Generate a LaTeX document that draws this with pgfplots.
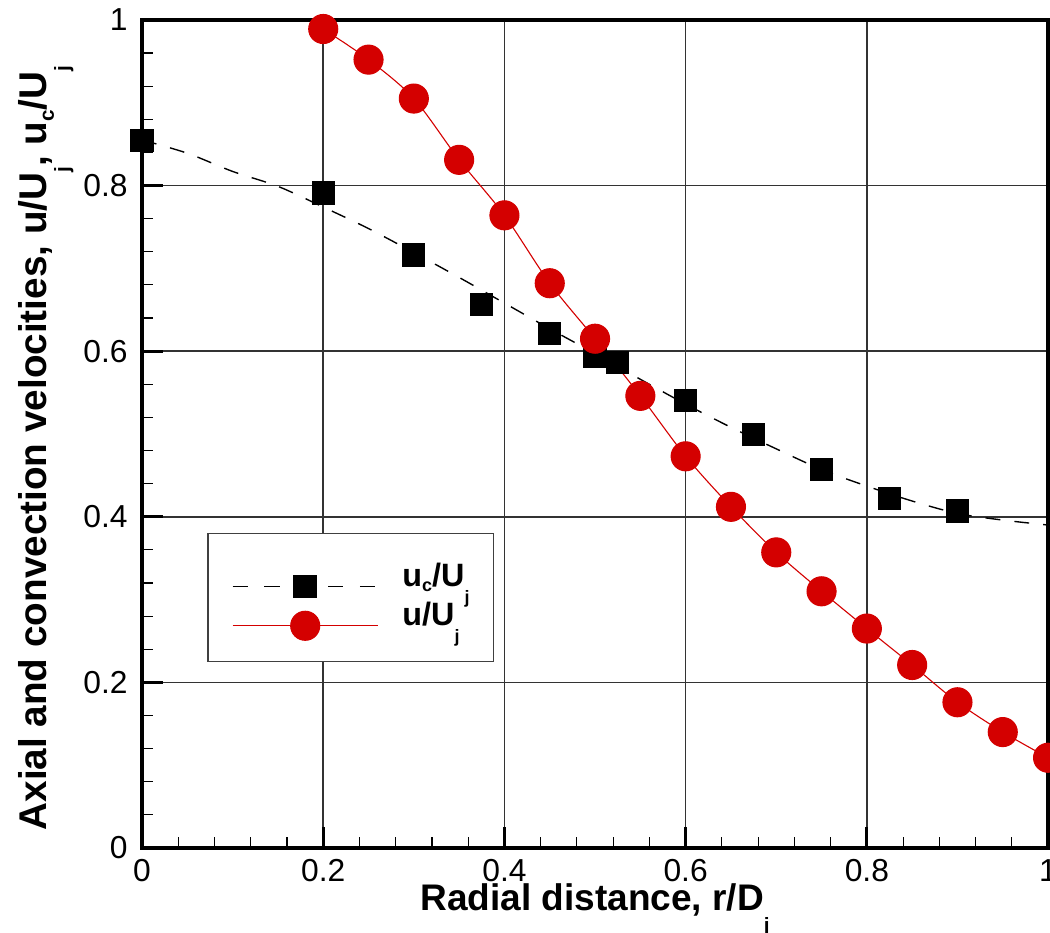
\documentclass[border=0pt]{standalone}
\usepackage{fontspec}
\setmainfont{Liberation Sans}
\usepackage{pgfplots}
\pgfplotsset{compat=1.18}
\definecolor{myred}{RGB}{212,0,0}
\newcommand{\sub}[3]{\smash{\raisebox{-#2}{\fontsize{#1}{#1}\selectfont #3}}}
\begin{document}
\begin{tikzpicture}
\begin{axis}[name=ax, scale only axis, width=327.9pt, height=299.7pt,
  xmin=0, xmax=1, ymin=0, ymax=1,
  xtick={0,0.2,0.4,0.6,0.8,1}, ytick={0,0.2,0.4,0.6,0.8,1},
  minor x tick num=4, minor y tick num=4,
  tick align=inside, tick pos=left,
  major tick length=7.6pt, minor tick length=4pt,
  every major tick/.append style={line width=1pt, black},
  every minor tick/.append style={line width=0.4pt, black},
  grid=major, major grid style={line width=0.55pt, black!80},
  axis line style={line width=1.45pt},
  /pgf/number format/assume math mode=true,
  ticklabel style={font=\fontsize{11.5}{14}\selectfont},
  xticklabel style={anchor=base, inner sep=0pt, yshift=-12pt},
  yticklabel style={anchor=east, inner sep=0pt, xshift=-5pt},
  xlabel={Radial distance, r/D\sub{7.5pt}{8pt}{j}},
  xlabel style={at={(axis description cs:0.5,-0.0758)}, anchor=base, inner sep=0pt, font=\fontsize{13.4}{16}\selectfont\bfseries},
  ylabel={Axial and convection velocities, u/U\sub{7.5pt}{8pt}{j}, u\sub{7.5pt}{2.5pt}{c}/U\sub{7.5pt}{8pt}{j}},
  ylabel style={at={(axis description cs:-0.1049,0.483)}, anchor=base, inner sep=0pt, font=\fontsize{14}{16}\selectfont\bfseries},
  legend cell align=left,
  legend style={at={(axis cs:0.072,0.3804)}, anchor=north west, draw=black!75, line width=0.5pt, fill=white,
    font=\fontsize{11.7}{14}\selectfont\bfseries, inner xsep=8.7pt, inner ysep=7.75pt,
    column sep=8.7pt, row sep=1.7pt, nodes={inner sep=0pt}, cells={anchor=base west}},
  legend image code/.code={\draw[mark repeat=2,mark phase=2,#1] plot coordinates {(0pt,0pt) (26.25pt,0pt) (52.5pt,0pt)};},
]
% fitted dashed curve
\addplot[forget plot, black, line width=0.5pt, dash pattern=on 5.4pt off 5.1pt, smooth] coordinates {
(0,0.855) (0.05,0.839) (0.1,0.817) (0.15,0.799) (0.2,0.774) (0.25,0.748) (0.3,0.719)
(0.35,0.689) (0.4,0.658) (0.45,0.627) (0.5,0.597) (0.55,0.566) (0.6,0.536) (0.65,0.508)
(0.7,0.482) (0.75,0.457) (0.8,0.437) (0.85,0.419) (0.9,0.404) (0.95,0.396) (1.0,0.390)};
% convection velocity squares
\addplot[forget plot, only marks, mark=square*, mark size=4pt, black] coordinates {
(0,0.854) (0.2,0.791) (0.3,0.716) (0.375,0.656) (0.45,0.621) (0.5,0.594) (0.525,0.586)
(0.6,0.540) (0.675,0.499) (0.75,0.457) (0.825,0.422) (0.9,0.407)};
% axial velocity
\addplot[forget plot, myred, line width=0.4pt, smooth, mark=*, mark size=5.25pt, mark options={fill=myred, draw=myred, solid}] coordinates {
(0.2,0.989) (0.25,0.952) (0.3,0.905) (0.35,0.831) (0.4,0.764) (0.45,0.682) (0.5,0.615)
(0.55,0.546) (0.6,0.473) (0.65,0.412) (0.7,0.357) (0.75,0.310) (0.8,0.265) (0.85,0.221)
(0.9,0.176) (0.95,0.140) (1.0,0.109)};
\addlegendimage{black, line width=0.5pt, dash pattern=on 5.6pt off 5.9pt, mark=square*, mark size=4pt, mark options={solid}}
\addlegendentry{\rule{0pt}{11.4pt}u\sub{6.5pt}{1.8pt}{c}/U\sub{6.5pt}{6pt}{j}}
\addlegendimage{myred, line width=0.4pt, mark=*, mark size=5.25pt, mark options={fill=myred, draw=myred}}
\addlegendentry{u/U\sub{6.5pt}{6pt}{j}}
\end{axis}
\pgfresetboundingbox
\useasboundingbox ([shift={(-51.4pt,-30.4pt)}]ax.south west) rectangle ++(380pt,337.3pt);
\end{tikzpicture}
\end{document}
